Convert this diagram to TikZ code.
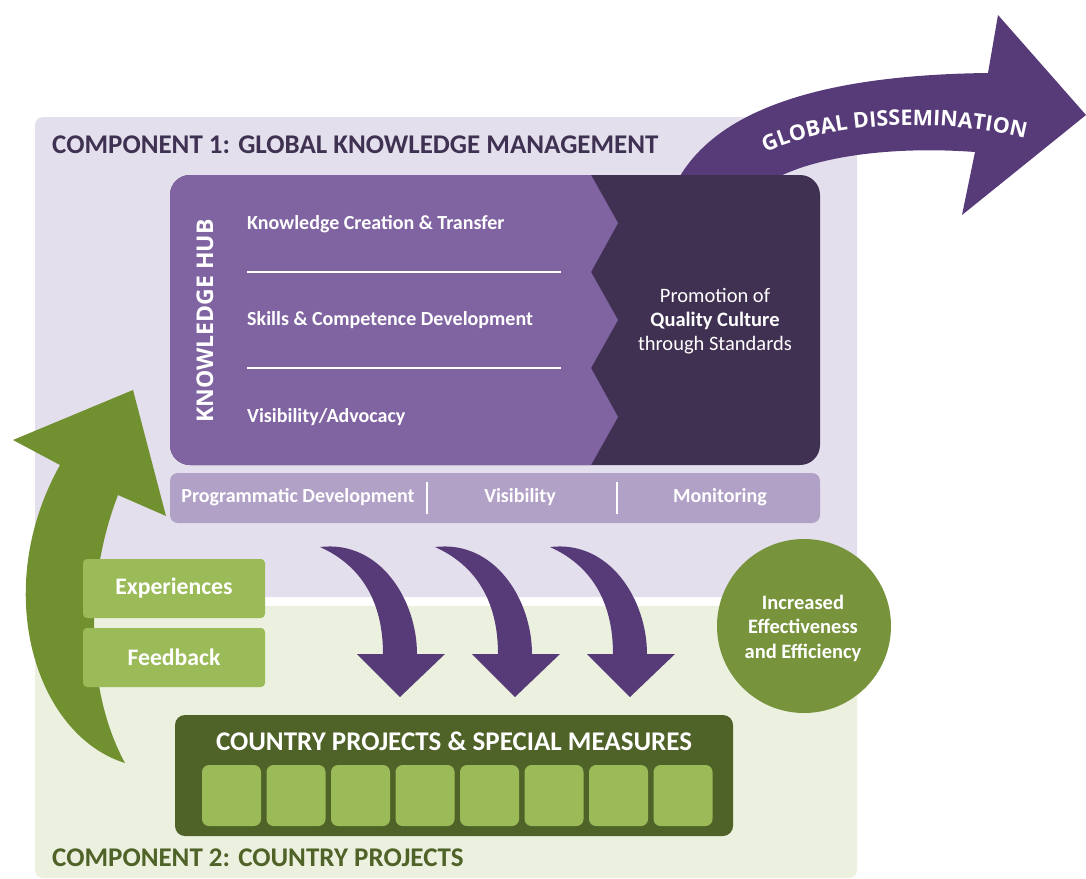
\documentclass[tikz,border=0pt]{standalone}
\usepackage{fontspec}
\setmainfont{Carlito}
\newfontfamily\hubfont{Open Sans}
\usetikzlibrary{decorations.text}
\definecolor{lavbg}{HTML}{E4DFEC}
\definecolor{grnbg}{HTML}{EBF1DE}
\definecolor{hubL}{HTML}{8064A2}
\definecolor{hubD}{HTML}{403152}
\definecolor{barC}{HTML}{B2A1C7}
\definecolor{purp}{HTML}{573B78}
\definecolor{titleP}{HTML}{3F3151}
\definecolor{garrow}{HTML}{71902F}
\definecolor{lgreen}{HTML}{9BBB59}
\definecolor{dgreen}{HTML}{4F6228}
\definecolor{cgreen}{HTML}{77933C}
\newcommand{\fs}[1]{\fontsize{#1}{#1}\selectfont}
\tikzset{
  panel/.style={anchor=north west, inner sep=0pt, outer sep=0pt},
  hubtxt/.style={anchor=west, inner sep=0pt, text=white, font=\bfseries\fs{20}},
  bartxt/.style={inner sep=0pt, text=white, font=\bfseries\fs{20}},
  sep/.style={white, line width=1.5pt},
  gbox/.style={panel, fill=lgreen, rounded corners=4pt, minimum width=182pt, minimum height=59pt},
  gboxtxt/.style={text=white, font=\bfseries\fs{23.7}},
  pbox/.style={panel, fill=lgreen, rounded corners=7pt, minimum width=59pt, minimum height=61pt},
  title/.style={anchor=west, inner sep=0pt, font=\bfseries\fs{27}}
}
\begin{document}
\begin{tikzpicture}[x=1pt,y=-1pt]
\useasboundingbox (0,0) rectangle (1086,878);
% backgrounds
\node[panel, fill=lavbg, rounded corners=8pt, minimum width=822pt, minimum height=480pt] (comp1) at (35,117) {};
\node[panel, fill=grnbg, rounded corners=8pt, minimum width=822pt, minimum height=272pt] (comp2) at (35,606) {};
% global dissemination arrow
\fill[purp] (680,176) .. controls (720,110) and (820,75) .. (988,73) -- (998,15) -- (1086,115) -- (962,215) -- (975,152) .. controls (880,145) and (800,160) .. (765,185) -- cycle;
\path[decorate, decoration={text along path, text align=center, text color=white,
  text={|\hubfont\bfseries\fs{21.5}|GLOBAL DISSEMINATION}}]
  (750,160) .. controls (820,121) and (940,114) .. (1042,143);
% knowledge hub
\node[panel, fill=hubD, rounded corners=20pt, minimum width=650pt, minimum height=290pt] (hub) at (170,175) {};
\begin{scope}
  \clip[rounded corners=20pt] (hub.north west) rectangle (hub.south east);
  \fill[hubL] (160,165) -- (591,165) -- (591,175) -- (618,223) -- (591,272) -- (618,320) -- (591,368) -- (618,417) -- (591,465) -- (591,475) -- (160,475) -- cycle;
\end{scope}
\coordinate (l1a) at (247,272); \coordinate (l1b) at (561,272);
\coordinate (l2a) at (247,368); \coordinate (l2b) at (561,368);
\draw[sep] (l1a) -- (l1b);
\draw[sep] (l2a) -- (l2b);
\node[rotate=90, inner sep=0pt, text=white, font=\hubfont\bfseries\fs{23}] (khub) at (205,321) {KNOWLEDGE HUB};
\node[hubtxt] (kct) at (247,224) {Knowledge Creation \& Transfer};
\node[hubtxt] (scd) at (247,320) {Skills \& Competence Development};
\node[hubtxt] (va) at (247,417) {Visibility/Advocacy};
\node[align=center, text=white, inner sep=0pt, font=\fontsize{20.5}{24}\selectfont] (qual) at (715,321)
  {Promotion of\\ \textbf{Quality Culture}\\ through Standards};
% bar
\node[panel, fill=barC, rounded corners=8pt, minimum width=650pt, minimum height=50pt] (bar) at (170,473) {};
\coordinate (d1a) at (427,482); \coordinate (d1b) at (427,514);
\coordinate (d2a) at (617,482); \coordinate (d2b) at (617,514);
\draw[sep] (d1a) -- (d1b);
\draw[sep] (d2a) -- (d2b);
\node[bartxt] (pd) at (298,497) {Programmatic Development};
\node[bartxt] (vis) at (520,497) {Visibility};
\node[bartxt] (mon) at (720,497) {Monitoring};
% green arrow
\fill[garrow] (125,763) .. controls (35,735) and (-10,590) .. (60,465) -- (13,440) -- (133,390) -- (166,516) -- (118,495) .. controls (85,580) and (85,690) .. (125,763) -- cycle;
% experiences / feedback
\node[gbox] (exp) at (83,559) {};
\node[gboxtxt] (expt) at (exp.center) {Experiences};
\node[gbox] (fb) at (83,628) {};
\node[gboxtxt] (fbt) at (fb.center) {Feedback};
% purple arrows
\foreach \dx in {0,115,230}{
  \fill[purp, shift={(\dx,0)}] (320,547) .. controls (380,540) and (417,600) .. (417,654) -- (445,654) -- (400,697) -- (357,654) -- (383,654) .. controls (383,600) and (360,565) .. (320,547) -- cycle;
}
% country projects
\node[panel, fill=dgreen, rounded corners=10pt, minimum width=558pt, minimum height=121pt] (cbox) at (175,715) {};
\node[text=white, inner sep=0pt, font=\bfseries\fs{27}] (ctitle) at (454,741) {COUNTRY PROJECTS \& SPECIAL MEASURES};
\foreach \i in {0,...,7}{
  \node[pbox] (p\i) at ({202+64.5*\i},765) {};
}
% circle
\node[circle, fill=cgreen, minimum size=174pt, inner sep=0pt] (eff) at (804,626) {};
\node[align=center, text=white, inner sep=0pt, font=\bfseries\fontsize{20.5}{24.5}\selectfont] (efft) at (803,628) {Increased\\Effectiveness\\and Efficiency};
% titles
\node[title, text=titleP] (t1) at (52,145) {COMPONENT 1: GLOBAL KNOWLEDGE MANAGEMENT};
\node[title, text=dgreen] (t2) at (52,858) {COMPONENT 2: COUNTRY PROJECTS};
\end{tikzpicture}
\end{document}
